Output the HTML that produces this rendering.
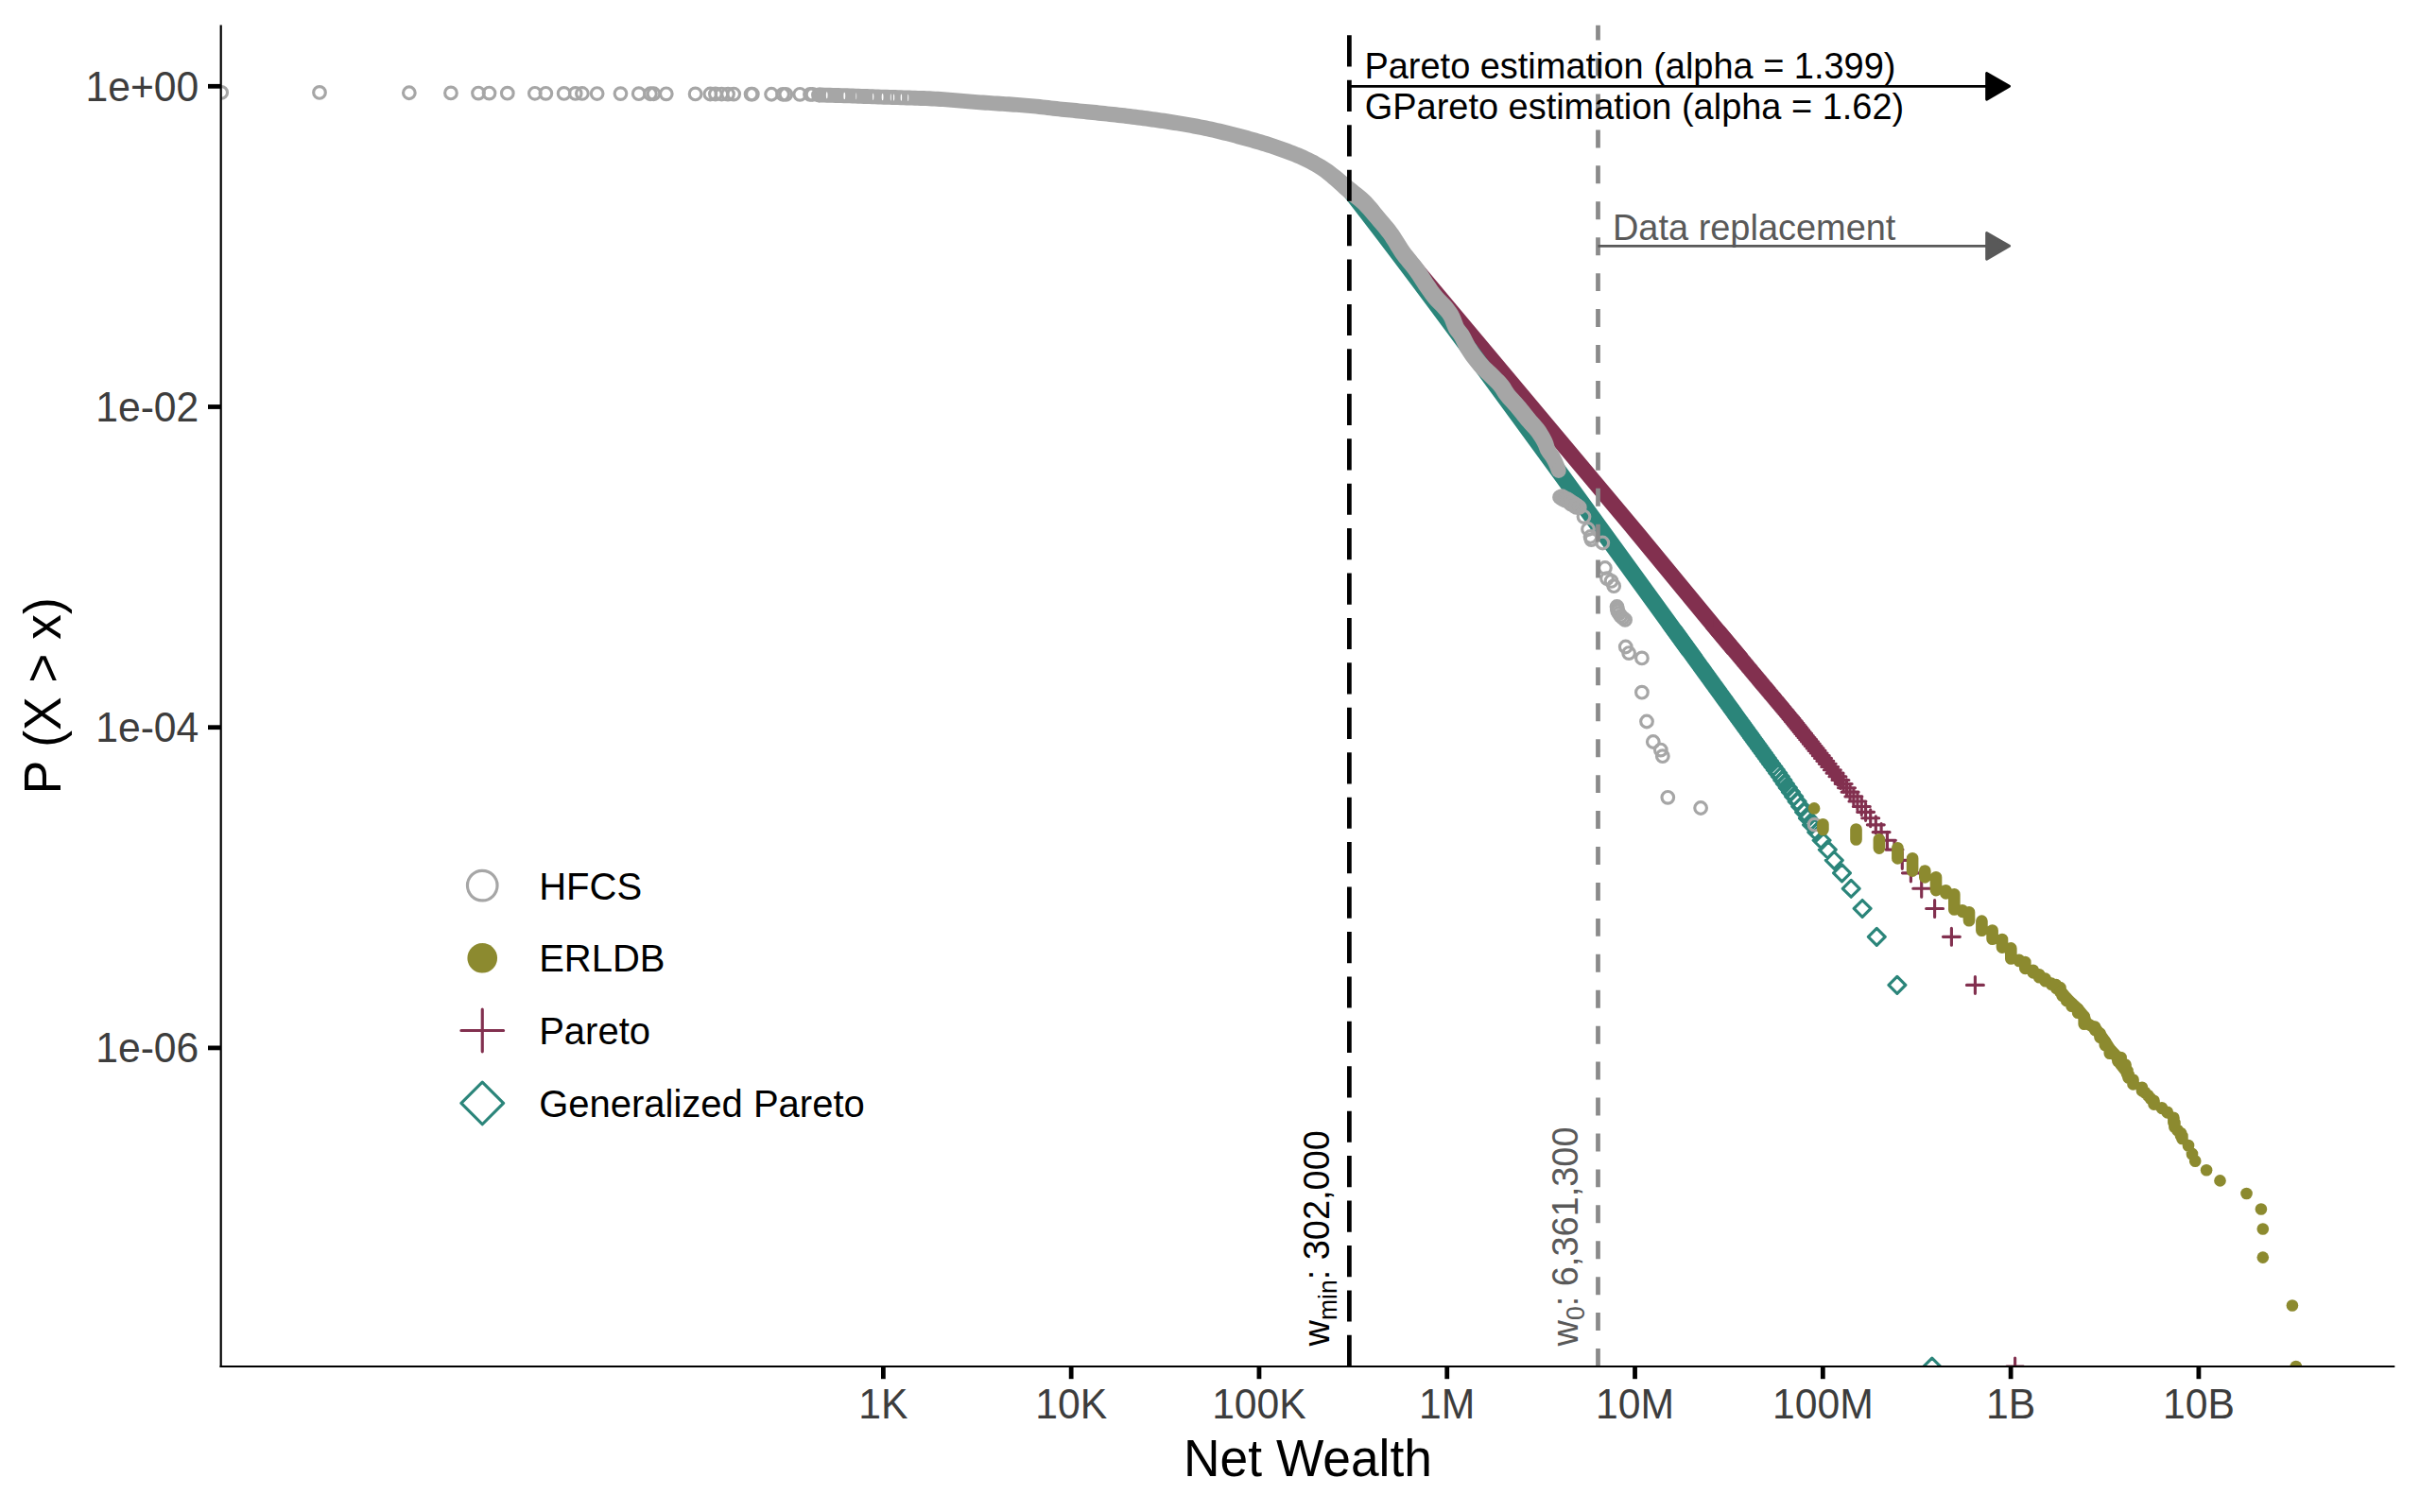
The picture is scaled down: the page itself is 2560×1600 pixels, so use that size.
<!DOCTYPE html>
<html lang="en"><head><meta charset="utf-8"><title>Net Wealth tail</title>
<style>html,body{margin:0;padding:0;background:#fff}svg{display:block}</style></head>
<body>
<svg width="2560" height="1600" viewBox="0 0 2560 1600" role="img" aria-label="Complementary CDF of net wealth">
<defs><clipPath id="panel"><rect x="233.7" y="26.5" width="2299.6" height="1419.5"/></clipPath></defs>
<rect width="2560" height="1600" fill="#ffffff"/>
<g clip-path="url(#panel)">
<g id="pareto" stroke="#82304f" fill="none" stroke-width="3.15" stroke-linecap="round">
<polygon points="1416.38,200.4 1419.73,204.4 1423.08,208.4 1426.43,212.4 1429.78,216.4 1433.13,220.4 1436.49,224.4 1439.84,228.4 1443.19,232.4 1446.54,236.4 1449.89,240.4 1453.24,244.4 1456.59,248.4 1459.94,252.4 1463.3,256.4 1466.65,260.4 1470,264.4 1473.35,268.4 1476.7,272.4 1480.05,276.4 1483.4,280.4 1486.75,284.4 1490.11,288.4 1493.46,292.4 1496.81,296.4 1500.16,300.4 1503.51,304.4 1506.86,308.4 1510.21,312.4 1513.57,316.4 1516.92,320.4 1520.27,324.4 1523.62,328.4 1526.97,332.4 1530.32,336.4 1533.67,340.4 1537.02,344.4 1540.38,348.4 1543.73,352.4 1547.08,356.4 1550.43,360.4 1553.78,364.4 1557.13,368.4 1560.48,372.4 1563.83,376.4 1567.19,380.4 1570.54,384.4 1573.89,388.4 1577.24,392.4 1580.59,396.4 1583.94,400.4 1587.29,404.4 1590.64,408.4 1594,412.4 1597.35,416.4 1600.7,420.4 1604.05,424.4 1607.4,428.4 1610.75,432.4 1614.1,436.4 1617.45,440.4 1620.81,444.4 1624.16,448.4 1627.51,452.4 1630.86,456.4 1634.21,460.4 1637.56,464.4 1640.91,468.4 1644.27,472.4 1647.62,476.4 1650.97,480.4 1654.32,484.4 1657.67,488.4 1661.02,492.4 1664.37,496.4 1667.72,500.4 1671.08,504.4 1674.43,508.4 1677.78,512.4 1681.13,516.4 1684.48,520.4 1687.83,524.4 1691.18,528.4 1694.53,532.4 1697.89,536.4 1701.24,540.4 1704.59,544.4 1707.94,548.4 1711.29,552.4 1714.64,556.4 1717.99,560.4 1721.29,564.4 1724.58,568.4 1727.88,572.4 1731.17,576.4 1734.46,580.4 1737.76,584.4 1741.05,588.4 1744.34,592.4 1747.64,596.4 1750.93,600.4 1754.22,604.4 1757.52,608.4 1760.81,612.4 1764.1,616.4 1767.4,620.4 1770.69,624.4 1773.98,628.4 1777.28,632.4 1780.57,636.4 1783.86,640.4 1787.15,644.4 1790.45,648.4 1793.74,652.4 1797.03,656.4 1800.33,660.4 1803.67,664.4 1807.02,668.4 1810.36,672.4 1813.71,676.4 1817.06,680.4 1820.4,684.4 1823.75,688.4 1827.09,692.4 1849.07,692.4 1845.73,688.4 1842.38,684.4 1839.04,680.4 1835.69,676.4 1832.35,672.4 1829,668.4 1825.66,664.4 1822.31,660.4 1818.99,656.4 1815.7,652.4 1812.4,648.4 1809.11,644.4 1805.82,640.4 1802.52,636.4 1799.23,632.4 1795.94,628.4 1792.64,624.4 1789.35,620.4 1786.06,616.4 1782.77,612.4 1779.47,608.4 1776.18,604.4 1772.89,600.4 1769.59,596.4 1766.3,592.4 1763.01,588.4 1759.71,584.4 1756.42,580.4 1753.13,576.4 1749.83,572.4 1746.54,568.4 1743.25,564.4 1739.96,560.4 1736.63,556.4 1733.28,552.4 1729.92,548.4 1726.57,544.4 1723.22,540.4 1719.87,536.4 1716.52,532.4 1713.17,528.4 1709.82,524.4 1706.47,520.4 1703.11,516.4 1699.76,512.4 1696.41,508.4 1693.06,504.4 1689.71,500.4 1686.36,496.4 1683.01,492.4 1679.66,488.4 1676.3,484.4 1672.95,480.4 1669.6,476.4 1666.25,472.4 1662.9,468.4 1659.55,464.4 1656.2,460.4 1652.85,456.4 1649.49,452.4 1646.14,448.4 1642.79,444.4 1639.44,440.4 1636.09,436.4 1632.74,432.4 1629.39,428.4 1626.03,424.4 1622.68,420.4 1619.33,416.4 1615.98,412.4 1612.63,408.4 1609.28,404.4 1605.93,400.4 1602.58,396.4 1599.22,392.4 1595.87,388.4 1592.52,384.4 1589.17,380.4 1585.82,376.4 1582.47,372.4 1579.12,368.4 1575.77,364.4 1572.41,360.4 1569.06,356.4 1565.71,352.4 1562.36,348.4 1559.01,344.4 1555.66,340.4 1552.31,336.4 1548.96,332.4 1545.6,328.4 1542.25,324.4 1538.9,320.4 1535.55,316.4 1532.2,312.4 1528.85,308.4 1525.5,304.4 1522.15,300.4 1518.79,296.4 1515.44,292.4 1512.09,288.4 1508.74,284.4 1505.39,280.4 1502.04,276.4 1498.69,272.4 1495.33,268.4 1491.98,264.4 1488.63,260.4 1485.28,256.4 1481.93,252.4 1478.58,248.4 1475.23,244.4 1471.88,240.4 1468.52,236.4 1465.17,232.4 1461.82,228.4 1458.47,224.4 1455.12,220.4 1451.77,216.4 1448.42,212.4 1445.07,208.4 1441.71,204.4 1438.36,200.4" fill="#82304f" stroke="none"/>
<path d="M1805.49 664.12h17.88M1814.43 655.18v17.88M1805.85 664.55h17.88M1814.79 655.61v17.88M1806.22 664.99h17.88M1815.16 656.05v17.88M1806.59 665.43h17.88M1815.52 656.49v17.88M1806.96 665.87h17.88M1815.89 656.93v17.88M1807.33 666.31h17.88M1816.27 657.38v17.88M1807.7 666.76h17.88M1816.64 657.82v17.88M1808.08 667.21h17.88M1817.02 658.28v17.88M1808.46 667.67h17.88M1817.4 658.73v17.88M1808.84 668.12h17.88M1817.78 659.18v17.88M1809.22 668.58h17.88M1818.16 659.64v17.88M1809.61 669.04h17.88M1818.55 660.11v17.88M1810 669.51h17.88M1818.94 660.57v17.88M1810.39 669.98h17.88M1819.33 661.04v17.88M1810.78 670.45h17.88M1819.72 661.51v17.88M1811.18 670.92h17.88M1820.12 661.98v17.88M1811.58 671.4h17.88M1820.52 662.46v17.88M1811.98 671.88h17.88M1820.92 662.94v17.88M1812.38 672.36h17.88M1821.32 663.42v17.88M1812.79 672.85h17.88M1821.73 663.91v17.88M1813.2 673.33h17.88M1822.14 664.4v17.88M1813.61 673.83h17.88M1822.55 664.89v17.88M1814.03 674.32h17.88M1822.96 665.39v17.88M1814.44 674.82h17.88M1823.38 665.89v17.88M1814.86 675.33h17.88M1823.8 666.39v17.88M1815.29 675.83h17.88M1824.23 666.89v17.88M1815.71 676.34h17.88M1824.65 667.4v17.88M1816.14 676.86h17.88M1825.08 667.92v17.88M1816.58 677.37h17.88M1825.51 668.43v17.88M1817.01 677.89h17.88M1825.95 668.95v17.88M1817.45 678.42h17.88M1826.39 669.48v17.88M1817.89 678.94h17.88M1826.83 670.01v17.88M1818.34 679.48h17.88M1827.27 670.54v17.88M1818.78 680.01h17.88M1827.72 671.07v17.88M1819.24 680.55h17.88M1828.17 671.61v17.88M1819.69 681.1h17.88M1828.63 672.16v17.88M1820.15 681.64h17.88M1829.09 672.71v17.88M1820.61 682.19h17.88M1829.55 673.26v17.88M1821.07 682.75h17.88M1830.01 673.81v17.88M1821.54 683.31h17.88M1830.48 674.37v17.88M1822.02 683.88h17.88M1830.95 674.94v17.88M1822.49 684.44h17.88M1831.43 675.51v17.88M1822.97 685.02h17.88M1831.91 676.08v17.88M1823.45 685.59h17.88M1832.39 676.66v17.88M1823.94 686.18h17.88M1832.88 677.24v17.88M1824.43 686.76h17.88M1833.37 677.83v17.88M1824.93 687.36h17.88M1833.86 678.42v17.88M1825.42 687.95h17.88M1834.36 679.01v17.88M1825.93 688.55h17.88M1834.87 679.62v17.88M1826.43 689.16h17.88M1835.37 680.22v17.88M1826.95 689.77h17.88M1835.88 680.83v17.88M1827.46 690.39h17.88M1836.4 681.45v17.88M1827.98 691.01h17.88M1836.92 682.07v17.88M1828.51 691.64h17.88M1837.44 682.7v17.88M1829.03 692.27h17.88M1837.97 683.33v17.88M1829.57 692.91h17.88M1838.51 683.97v17.88M1830.11 693.55h17.88M1839.04 684.61v17.88M1830.65 694.2h17.88M1839.59 685.26v17.88M1831.2 694.85h17.88M1840.13 685.91v17.88M1831.75 695.51h17.88M1840.69 686.58v17.88M1832.31 696.18h17.88M1841.24 687.24v17.88M1832.87 696.85h17.88M1841.81 687.91v17.88M1833.44 697.53h17.88M1842.37 688.59v17.88M1834.01 698.22h17.88M1842.95 689.28v17.88M1834.59 698.91h17.88M1843.53 689.97v17.88M1835.17 699.61h17.88M1844.11 690.67v17.88M1835.76 700.31h17.88M1844.7 691.37v17.88M1836.36 701.02h17.88M1845.29 692.08v17.88M1836.96 701.74h17.88M1845.89 692.8v17.88M1837.56 702.47h17.88M1846.5 693.53v17.88M1838.18 703.2h17.88M1847.11 694.26v17.88M1838.8 703.94h17.88M1847.73 695v17.88M1839.42 704.69h17.88M1848.36 695.75v17.88M1840.05 705.44h17.88M1848.99 696.51v17.88M1840.69 706.21h17.88M1849.63 697.27v17.88M1841.34 706.98h17.88M1850.27 698.04v17.88M1841.99 707.76h17.88M1850.93 698.82v17.88M1842.65 708.55h17.88M1851.59 699.61v17.88M1843.31 709.34h17.88M1852.25 700.4v17.88M1843.99 710.15h17.88M1852.92 701.21v17.88M1844.67 710.96h17.88M1853.61 702.02v17.88M1845.36 711.78h17.88M1854.29 702.85v17.88M1846.05 712.62h17.88M1854.99 703.68v17.88M1846.76 713.46h17.88M1855.69 704.52v17.88M1847.47 714.31h17.88M1856.41 705.37v17.88M1848.19 715.17h17.88M1857.13 706.23v17.88M1848.92 716.04h17.88M1857.86 707.1v17.88M1849.65 716.92h17.88M1858.59 707.99v17.88M1850.4 717.82h17.88M1859.34 708.88v17.88M1851.16 718.72h17.88M1860.1 709.78v17.88M1851.92 719.64h17.88M1860.86 710.7v17.88M1852.7 720.56h17.88M1861.64 711.62v17.88M1853.48 721.5h17.88M1862.42 712.56v17.88M1854.28 722.45h17.88M1863.22 713.51v17.88M1855.08 723.41h17.88M1864.02 714.48v17.88M1855.9 724.39h17.88M1864.84 715.45v17.88M1856.73 725.38h17.88M1865.66 716.44v17.88M1857.56 726.38h17.88M1866.5 717.44v17.88M1858.41 727.4h17.88M1867.35 718.46v17.88M1859.27 728.43h17.88M1868.21 719.49v17.88M1860.15 729.47h17.88M1869.09 720.53v17.88M1861.03 730.53h17.88M1869.97 721.59v17.88M1861.93 731.61h17.88M1870.87 722.67v17.88M1862.85 732.7h17.88M1871.78 723.76v17.88M1863.77 733.81h17.88M1872.71 724.87v17.88M1864.71 734.93h17.88M1873.65 725.99v17.88M1865.67 736.07h17.88M1874.61 727.13v17.88M1866.64 737.23h17.88M1875.58 728.29v17.88M1867.62 738.41h17.88M1876.56 729.47v17.88M1868.63 739.61h17.88M1877.56 730.67v17.88M1869.64 740.83h17.88M1878.58 731.89v17.88M1870.68 742.06h17.88M1879.62 733.13v17.88M1871.73 743.32h17.88M1880.67 734.38v17.88M1872.8 744.6h17.88M1881.74 735.67v17.88M1873.89 745.91h17.88M1882.83 736.97v17.88M1875 747.23h17.88M1883.94 738.3v17.88M1876.13 748.59h17.88M1885.07 739.65v17.88M1877.29 749.96h17.88M1886.22 741.02v17.88M1878.46 751.37h17.88M1887.4 742.43v17.88M1879.66 752.8h17.88M1888.59 743.86v17.88M1880.88 754.25h17.88M1889.81 745.32v17.88M1882.12 755.74h17.88M1891.06 746.8v17.88M1883.39 757.26h17.88M1892.33 748.32v17.88M1884.69 758.81h17.88M1893.62 749.87v17.88M1885.98 760.4h17.88M1894.92 751.46v17.88M1887.27 762.02h17.88M1896.21 753.08v17.88M1888.59 763.67h17.88M1897.53 754.73v17.88M1889.95 765.36h17.88M1898.89 756.43v17.88M1891.33 767.1h17.88M1900.27 758.16v17.88M1892.75 768.87h17.88M1901.69 759.93v17.88M1894.21 770.69h17.88M1903.14 761.75v17.88M1895.7 772.56h17.88M1904.63 763.62v17.88M1897.22 774.47h17.88M1906.16 765.53v17.88M1898.79 776.43h17.88M1907.73 767.5v17.88M1900.41 778.45h17.88M1909.34 769.51v17.88M1902.07 780.53h17.88M1911 771.59v17.88M1903.77 782.66h17.88M1912.71 773.72v17.88M1905.53 784.86h17.88M1914.47 775.92v17.88M1907.34 787.13h17.88M1916.28 778.19v17.88M1909.21 789.47h17.88M1918.15 780.53v17.88M1911.14 791.88h17.88M1920.08 782.94v17.88M1913.13 794.38h17.88M1922.07 785.44v17.88M1915.2 796.96h17.88M1924.14 788.02v17.88M1917.34 799.64h17.88M1926.28 790.7v17.88M1919.56 802.42h17.88M1928.5 793.48v17.88M1921.87 805.31h17.88M1930.81 796.37v17.88M1924.27 808.32h17.88M1933.21 799.38v17.88M1926.78 811.45h17.88M1935.72 802.51v17.88M1929.4 814.73h17.88M1938.33 805.79v17.88M1932.13 818.15h17.88M1941.07 809.21v17.88M1935.01 821.75h17.88M1943.94 812.81v17.88M1938.02 825.52h17.88M1946.96 816.59v17.88M1941.21 829.51h17.88M1950.14 820.57v17.88M1944.57 833.72h17.88M1953.51 824.78v17.88M1948.14 838.18h17.88M1957.08 829.24v17.88M1951.94 842.93h17.88M1960.88 834v17.88M1956 848.02h17.88M1964.94 839.08v17.88M1960.36 853.48h17.88M1969.3 844.54v17.88M1964.66 859.37h17.88M1973.6 850.43v17.88M1969.76 865.78h17.88M1978.7 856.84v17.88M1975.36 872.8h17.88M1984.3 863.86v17.88M1981.16 880.56h17.88M1990.1 871.62v17.88M1987.46 889.24h17.88M1996.4 880.3v17.88M1995.06 899.07h17.88M2004 890.13v17.88M2003.36 910.43h17.88M2012.3 901.49v17.88M2012.46 923.85h17.88M2021.4 914.92v17.88M2023.76 940.29h17.88M2032.7 931.35v17.88M2037.66 961.48h17.88M2046.6 952.54v17.88M2055.46 991.35h17.88M2064.4 982.41v17.88M2080.46 1042.4h17.88M2089.4 1033.46v17.88M2122.66 1446h17.88M2131.6 1437.06v17.88"/>
</g>
<g id="gpareto" stroke="#2b857a" fill="none" stroke-width="3.15" stroke-linejoin="round">
<polygon points="1416.43,201.14 1419.56,205.14 1422.69,209.14 1425.81,213.14 1428.92,217.14 1432.02,221.14 1435.11,225.14 1438.2,229.14 1441.28,233.14 1444.35,237.14 1447.42,241.14 1450.48,245.14 1453.54,249.14 1456.59,253.14 1459.64,257.14 1462.68,261.14 1465.71,265.14 1468.74,269.14 1471.77,273.14 1474.79,277.14 1477.8,281.14 1480.82,285.14 1483.82,289.14 1486.83,293.14 1489.83,297.14 1492.83,301.14 1495.82,305.14 1498.81,309.14 1501.8,313.14 1504.78,317.14 1507.76,321.14 1510.74,325.14 1513.71,329.14 1516.68,333.14 1519.65,337.14 1522.62,341.14 1525.58,345.14 1528.55,349.14 1531.51,353.14 1534.46,357.14 1537.42,361.14 1540.37,365.14 1543.32,369.14 1546.27,373.14 1549.22,377.14 1552.17,381.14 1555.11,385.14 1558.05,389.14 1560.99,393.14 1563.93,397.14 1566.87,401.14 1569.81,405.14 1572.74,409.14 1575.67,413.14 1578.61,417.14 1581.54,421.14 1584.47,425.14 1587.4,429.14 1590.32,433.14 1593.25,437.14 1596.17,441.14 1599.1,445.14 1602.02,449.14 1604.94,453.14 1607.86,457.14 1610.78,461.14 1613.7,465.14 1616.62,469.14 1619.54,473.14 1622.46,477.14 1625.37,481.14 1628.29,485.14 1631.2,489.14 1634.12,493.14 1637.03,497.14 1639.94,501.14 1642.86,505.14 1645.77,509.14 1648.68,513.14 1651.59,517.14 1654.5,521.14 1657.41,525.14 1660.32,529.14 1663.23,533.14 1666.13,537.14 1669.04,541.14 1671.95,545.14 1674.85,549.14 1677.76,553.14 1680.67,557.14 1683.57,561.14 1686.48,565.14 1689.38,569.14 1692.29,573.14 1695.19,577.14 1698.09,581.14 1701,585.14 1703.9,589.14 1706.8,593.14 1709.7,597.14 1712.61,601.14 1715.51,605.14 1718.41,609.14 1721.31,613.14 1724.21,617.14 1727.11,621.14 1730.01,625.14 1732.92,629.14 1735.82,633.14 1738.72,637.14 1741.62,641.14 1744.51,645.14 1747.41,649.14 1750.31,653.14 1753.21,657.14 1756.11,661.14 1759.01,665.14 1761.91,669.14 1764.81,673.14 1767.71,677.14 1770.6,681.14 1773.5,685.14 1776.4,689.14 1779.3,693.14 1801.06,693.14 1798.17,689.14 1795.27,685.14 1792.37,681.14 1789.47,677.14 1786.57,673.14 1783.67,669.14 1780.78,665.14 1777.88,661.14 1774.98,657.14 1772.08,653.14 1769.18,649.14 1766.28,645.14 1763.38,641.14 1760.48,637.14 1757.58,633.14 1754.68,629.14 1751.78,625.14 1748.88,621.14 1745.98,617.14 1743.08,613.14 1740.18,609.14 1737.28,605.14 1734.37,601.14 1731.47,597.14 1728.57,593.14 1725.67,589.14 1722.76,585.14 1719.86,581.14 1716.96,577.14 1714.05,573.14 1711.15,569.14 1708.25,565.14 1705.34,561.14 1702.44,557.14 1699.53,553.14 1696.62,549.14 1693.72,545.14 1690.81,541.14 1687.9,537.14 1685,533.14 1682.09,529.14 1679.18,525.14 1676.27,521.14 1673.36,517.14 1670.45,513.14 1667.54,509.14 1664.63,505.14 1661.72,501.14 1658.8,497.14 1655.89,493.14 1652.98,489.14 1650.06,485.14 1647.15,481.14 1644.23,477.14 1641.31,473.14 1638.4,469.14 1635.48,465.14 1632.56,461.14 1629.64,457.14 1626.72,453.14 1623.8,449.14 1620.88,445.14 1617.95,441.14 1615.03,437.14 1612.1,433.14 1609.17,429.14 1606.25,425.14 1603.32,421.14 1600.39,417.14 1597.46,413.14 1594.52,409.14 1591.59,405.14 1588.65,401.14 1585.72,397.14 1582.78,393.14 1579.84,389.14 1576.9,385.14 1573.95,381.14 1571.01,377.14 1568.06,373.14 1565.11,369.14 1562.16,365.14 1559.21,361.14 1556.26,357.14 1553.3,353.14 1550.34,349.14 1547.38,345.14 1544.42,341.14 1541.45,337.14 1538.48,333.14 1535.51,329.14 1532.54,325.14 1529.56,321.14 1526.58,317.14 1523.6,313.14 1520.62,309.14 1517.63,305.14 1514.64,301.14 1511.64,297.14 1508.64,293.14 1505.64,289.14 1502.63,285.14 1499.62,281.14 1496.61,277.14 1493.59,273.14 1490.57,269.14 1487.54,265.14 1484.51,261.14 1481.47,257.14 1478.43,253.14 1475.38,249.14 1472.33,245.14 1469.27,241.14 1466.2,237.14 1463.13,233.14 1460.05,229.14 1456.97,225.14 1453.88,221.14 1450.78,217.14 1447.67,213.14 1444.56,209.14 1441.44,205.14 1438.31,201.14" fill="#2b857a" stroke="none"/>
<path d="M1760.21 664.12l8.94 -8.94l8.94 8.94l-8.94 8.94zM1760.53 664.55l8.94 -8.94l8.94 8.94l-8.94 8.94zM1760.85 664.99l8.94 -8.94l8.94 8.94l-8.94 8.94zM1761.16 665.43l8.94 -8.94l8.94 8.94l-8.94 8.94zM1761.48 665.87l8.94 -8.94l8.94 8.94l-8.94 8.94zM1761.81 666.31l8.94 -8.94l8.94 8.94l-8.94 8.94zM1762.13 666.76l8.94 -8.94l8.94 8.94l-8.94 8.94zM1762.46 667.21l8.94 -8.94l8.94 8.94l-8.94 8.94zM1762.79 667.67l8.94 -8.94l8.94 8.94l-8.94 8.94zM1763.12 668.12l8.94 -8.94l8.94 8.94l-8.94 8.94zM1763.45 668.58l8.94 -8.94l8.94 8.94l-8.94 8.94zM1763.78 669.04l8.94 -8.94l8.94 8.94l-8.94 8.94zM1764.12 669.51l8.94 -8.94l8.94 8.94l-8.94 8.94zM1764.46 669.98l8.94 -8.94l8.94 8.94l-8.94 8.94zM1764.8 670.45l8.94 -8.94l8.94 8.94l-8.94 8.94zM1765.14 670.92l8.94 -8.94l8.94 8.94l-8.94 8.94zM1765.49 671.4l8.94 -8.94l8.94 8.94l-8.94 8.94zM1765.84 671.88l8.94 -8.94l8.94 8.94l-8.94 8.94zM1766.19 672.36l8.94 -8.94l8.94 8.94l-8.94 8.94zM1766.54 672.85l8.94 -8.94l8.94 8.94l-8.94 8.94zM1766.89 673.33l8.94 -8.94l8.94 8.94l-8.94 8.94zM1767.25 673.83l8.94 -8.94l8.94 8.94l-8.94 8.94zM1767.61 674.32l8.94 -8.94l8.94 8.94l-8.94 8.94zM1767.97 674.82l8.94 -8.94l8.94 8.94l-8.94 8.94zM1768.34 675.33l8.94 -8.94l8.94 8.94l-8.94 8.94zM1768.7 675.83l8.94 -8.94l8.94 8.94l-8.94 8.94zM1769.07 676.34l8.94 -8.94l8.94 8.94l-8.94 8.94zM1769.44 676.86l8.94 -8.94l8.94 8.94l-8.94 8.94zM1769.82 677.37l8.94 -8.94l8.94 8.94l-8.94 8.94zM1770.2 677.89l8.94 -8.94l8.94 8.94l-8.94 8.94zM1770.58 678.42l8.94 -8.94l8.94 8.94l-8.94 8.94zM1770.96 678.94l8.94 -8.94l8.94 8.94l-8.94 8.94zM1771.34 679.48l8.94 -8.94l8.94 8.94l-8.94 8.94zM1771.73 680.01l8.94 -8.94l8.94 8.94l-8.94 8.94zM1772.12 680.55l8.94 -8.94l8.94 8.94l-8.94 8.94zM1772.52 681.1l8.94 -8.94l8.94 8.94l-8.94 8.94zM1772.91 681.64l8.94 -8.94l8.94 8.94l-8.94 8.94zM1773.31 682.19l8.94 -8.94l8.94 8.94l-8.94 8.94zM1773.72 682.75l8.94 -8.94l8.94 8.94l-8.94 8.94zM1774.12 683.31l8.94 -8.94l8.94 8.94l-8.94 8.94zM1774.53 683.88l8.94 -8.94l8.94 8.94l-8.94 8.94zM1774.94 684.44l8.94 -8.94l8.94 8.94l-8.94 8.94zM1775.36 685.02l8.94 -8.94l8.94 8.94l-8.94 8.94zM1775.78 685.59l8.94 -8.94l8.94 8.94l-8.94 8.94zM1776.2 686.18l8.94 -8.94l8.94 8.94l-8.94 8.94zM1776.62 686.76l8.94 -8.94l8.94 8.94l-8.94 8.94zM1777.05 687.36l8.94 -8.94l8.94 8.94l-8.94 8.94zM1777.48 687.95l8.94 -8.94l8.94 8.94l-8.94 8.94zM1777.92 688.55l8.94 -8.94l8.94 8.94l-8.94 8.94zM1778.36 689.16l8.94 -8.94l8.94 8.94l-8.94 8.94zM1778.8 689.77l8.94 -8.94l8.94 8.94l-8.94 8.94zM1779.25 690.39l8.94 -8.94l8.94 8.94l-8.94 8.94zM1779.7 691.01l8.94 -8.94l8.94 8.94l-8.94 8.94zM1780.15 691.64l8.94 -8.94l8.94 8.94l-8.94 8.94zM1780.61 692.27l8.94 -8.94l8.94 8.94l-8.94 8.94zM1781.07 692.91l8.94 -8.94l8.94 8.94l-8.94 8.94zM1781.54 693.55l8.94 -8.94l8.94 8.94l-8.94 8.94zM1782.01 694.2l8.94 -8.94l8.94 8.94l-8.94 8.94zM1782.48 694.85l8.94 -8.94l8.94 8.94l-8.94 8.94zM1782.96 695.51l8.94 -8.94l8.94 8.94l-8.94 8.94zM1783.45 696.18l8.94 -8.94l8.94 8.94l-8.94 8.94zM1783.93 696.85l8.94 -8.94l8.94 8.94l-8.94 8.94zM1784.42 697.53l8.94 -8.94l8.94 8.94l-8.94 8.94zM1784.92 698.22l8.94 -8.94l8.94 8.94l-8.94 8.94zM1785.42 698.91l8.94 -8.94l8.94 8.94l-8.94 8.94zM1785.93 699.61l8.94 -8.94l8.94 8.94l-8.94 8.94zM1786.44 700.31l8.94 -8.94l8.94 8.94l-8.94 8.94zM1786.95 701.02l8.94 -8.94l8.94 8.94l-8.94 8.94zM1787.47 701.74l8.94 -8.94l8.94 8.94l-8.94 8.94zM1788 702.47l8.94 -8.94l8.94 8.94l-8.94 8.94zM1788.53 703.2l8.94 -8.94l8.94 8.94l-8.94 8.94zM1789.07 703.94l8.94 -8.94l8.94 8.94l-8.94 8.94zM1789.61 704.69l8.94 -8.94l8.94 8.94l-8.94 8.94zM1790.16 705.44l8.94 -8.94l8.94 8.94l-8.94 8.94zM1790.71 706.21l8.94 -8.94l8.94 8.94l-8.94 8.94zM1791.27 706.98l8.94 -8.94l8.94 8.94l-8.94 8.94zM1791.83 707.76l8.94 -8.94l8.94 8.94l-8.94 8.94zM1792.4 708.55l8.94 -8.94l8.94 8.94l-8.94 8.94zM1792.98 709.34l8.94 -8.94l8.94 8.94l-8.94 8.94zM1793.56 710.15l8.94 -8.94l8.94 8.94l-8.94 8.94zM1794.15 710.96l8.94 -8.94l8.94 8.94l-8.94 8.94zM1794.75 711.78l8.94 -8.94l8.94 8.94l-8.94 8.94zM1795.35 712.62l8.94 -8.94l8.94 8.94l-8.94 8.94zM1795.96 713.46l8.94 -8.94l8.94 8.94l-8.94 8.94zM1796.58 714.31l8.94 -8.94l8.94 8.94l-8.94 8.94zM1797.2 715.17l8.94 -8.94l8.94 8.94l-8.94 8.94zM1797.83 716.04l8.94 -8.94l8.94 8.94l-8.94 8.94zM1798.47 716.92l8.94 -8.94l8.94 8.94l-8.94 8.94zM1799.12 717.82l8.94 -8.94l8.94 8.94l-8.94 8.94zM1799.77 718.72l8.94 -8.94l8.94 8.94l-8.94 8.94zM1800.43 719.64l8.94 -8.94l8.94 8.94l-8.94 8.94zM1801.11 720.56l8.94 -8.94l8.94 8.94l-8.94 8.94zM1801.79 721.5l8.94 -8.94l8.94 8.94l-8.94 8.94zM1802.47 722.45l8.94 -8.94l8.94 8.94l-8.94 8.94zM1803.17 723.41l8.94 -8.94l8.94 8.94l-8.94 8.94zM1803.88 724.39l8.94 -8.94l8.94 8.94l-8.94 8.94zM1804.59 725.38l8.94 -8.94l8.94 8.94l-8.94 8.94zM1805.32 726.38l8.94 -8.94l8.94 8.94l-8.94 8.94zM1806.06 727.4l8.94 -8.94l8.94 8.94l-8.94 8.94zM1806.8 728.43l8.94 -8.94l8.94 8.94l-8.94 8.94zM1807.56 729.47l8.94 -8.94l8.94 8.94l-8.94 8.94zM1808.33 730.53l8.94 -8.94l8.94 8.94l-8.94 8.94zM1809.1 731.61l8.94 -8.94l8.94 8.94l-8.94 8.94zM1809.89 732.7l8.94 -8.94l8.94 8.94l-8.94 8.94zM1810.7 733.81l8.94 -8.94l8.94 8.94l-8.94 8.94zM1811.51 734.93l8.94 -8.94l8.94 8.94l-8.94 8.94zM1812.34 736.07l8.94 -8.94l8.94 8.94l-8.94 8.94zM1813.18 737.23l8.94 -8.94l8.94 8.94l-8.94 8.94zM1814.03 738.41l8.94 -8.94l8.94 8.94l-8.94 8.94zM1814.9 739.61l8.94 -8.94l8.94 8.94l-8.94 8.94zM1815.78 740.83l8.94 -8.94l8.94 8.94l-8.94 8.94zM1816.68 742.06l8.94 -8.94l8.94 8.94l-8.94 8.94zM1817.59 743.32l8.94 -8.94l8.94 8.94l-8.94 8.94zM1818.52 744.6l8.94 -8.94l8.94 8.94l-8.94 8.94zM1819.46 745.91l8.94 -8.94l8.94 8.94l-8.94 8.94zM1820.42 747.23l8.94 -8.94l8.94 8.94l-8.94 8.94zM1821.4 748.59l8.94 -8.94l8.94 8.94l-8.94 8.94zM1822.4 749.96l8.94 -8.94l8.94 8.94l-8.94 8.94zM1823.41 751.37l8.94 -8.94l8.94 8.94l-8.94 8.94zM1824.45 752.8l8.94 -8.94l8.94 8.94l-8.94 8.94zM1825.5 754.25l8.94 -8.94l8.94 8.94l-8.94 8.94zM1826.58 755.74l8.94 -8.94l8.94 8.94l-8.94 8.94zM1827.68 757.26l8.94 -8.94l8.94 8.94l-8.94 8.94zM1828.8 758.81l8.94 -8.94l8.94 8.94l-8.94 8.94zM1829.95 760.4l8.94 -8.94l8.94 8.94l-8.94 8.94zM1831.12 762.02l8.94 -8.94l8.94 8.94l-8.94 8.94zM1832.32 763.67l8.94 -8.94l8.94 8.94l-8.94 8.94zM1833.55 765.36l8.94 -8.94l8.94 8.94l-8.94 8.94zM1834.8 767.1l8.94 -8.94l8.94 8.94l-8.94 8.94zM1836.09 768.87l8.94 -8.94l8.94 8.94l-8.94 8.94zM1837.4 770.69l8.94 -8.94l8.94 8.94l-8.94 8.94zM1838.75 772.56l8.94 -8.94l8.94 8.94l-8.94 8.94zM1840.14 774.47l8.94 -8.94l8.94 8.94l-8.94 8.94zM1841.56 776.43l8.94 -8.94l8.94 8.94l-8.94 8.94zM1843.02 778.45l8.94 -8.94l8.94 8.94l-8.94 8.94zM1844.53 780.53l8.94 -8.94l8.94 8.94l-8.94 8.94zM1846.07 782.66l8.94 -8.94l8.94 8.94l-8.94 8.94zM1847.66 784.86l8.94 -8.94l8.94 8.94l-8.94 8.94zM1849.3 787.13l8.94 -8.94l8.94 8.94l-8.94 8.94zM1851 789.47l8.94 -8.94l8.94 8.94l-8.94 8.94zM1852.74 791.88l8.94 -8.94l8.94 8.94l-8.94 8.94zM1854.55 794.38l8.94 -8.94l8.94 8.94l-8.94 8.94zM1856.42 796.96l8.94 -8.94l8.94 8.94l-8.94 8.94zM1858.36 799.64l8.94 -8.94l8.94 8.94l-8.94 8.94zM1860.38 802.42l8.94 -8.94l8.94 8.94l-8.94 8.94zM1862.47 805.31l8.94 -8.94l8.94 8.94l-8.94 8.94zM1864.64 808.32l8.94 -8.94l8.94 8.94l-8.94 8.94zM1866.91 811.45l8.94 -8.94l8.94 8.94l-8.94 8.94zM1869.28 814.73l8.94 -8.94l8.94 8.94l-8.94 8.94zM1871.76 818.15l8.94 -8.94l8.94 8.94l-8.94 8.94zM1874.36 821.75l8.94 -8.94l8.94 8.94l-8.94 8.94zM1876.85 825.52l8.94 -8.94l8.94 8.94l-8.94 8.94zM1879.47 829.51l8.94 -8.94l8.94 8.94l-8.94 8.94zM1882.36 833.72l8.94 -8.94l8.94 8.94l-8.94 8.94zM1885.44 838.18l8.94 -8.94l8.94 8.94l-8.94 8.94zM1888.72 842.93l8.94 -8.94l8.94 8.94l-8.94 8.94zM1892.16 848.02l8.94 -8.94l8.94 8.94l-8.94 8.94zM1895.78 853.48l8.94 -8.94l8.94 8.94l-8.94 8.94zM1899.69 859.37l8.94 -8.94l8.94 8.94l-8.94 8.94zM1903.51 865.78l8.94 -8.94l8.94 8.94l-8.94 8.94zM1907.59 872.8l8.94 -8.94l8.94 8.94l-8.94 8.94zM1912.86 880.56l8.94 -8.94l8.94 8.94l-8.94 8.94zM1918.16 889.24l8.94 -8.94l8.94 8.94l-8.94 8.94zM1924.36 899.07l8.94 -8.94l8.94 8.94l-8.94 8.94zM1931.36 910.43l8.94 -8.94l8.94 8.94l-8.94 8.94zM1939.56 923.85l8.94 -8.94l8.94 8.94l-8.94 8.94zM1949.26 940.29l8.94 -8.94l8.94 8.94l-8.94 8.94zM1961.16 961.48l8.94 -8.94l8.94 8.94l-8.94 8.94zM1976.36 991.35l8.94 -8.94l8.94 8.94l-8.94 8.94zM1997.96 1042.4l8.94 -8.94l8.94 8.94l-8.94 8.94zM2034.86 1446l8.94 -8.94l8.94 8.94l-8.94 8.94z"/>
</g>
<g id="hfcs" stroke="#a6a6a6" fill="none" stroke-width="3.15">
<polygon points="865.83,108.45 868.83,108.51 871.82,108.58 874.81,108.65 877.79,108.72 880.78,108.8 883.76,108.89 886.75,108.97 889.74,109.07 892.73,109.16 895.72,109.26 898.71,109.37 901.7,109.47 904.7,109.58 907.69,109.68 910.69,109.79 913.69,109.9 916.69,110.01 919.69,110.12 922.69,110.23 925.69,110.34 928.69,110.44 931.7,110.54 934.7,110.64 937.71,110.74 940.72,110.83 943.72,110.93 946.72,111.02 949.72,111.1 952.72,111.19 955.72,111.28 958.71,111.38 961.7,111.47 964.69,111.57 967.68,111.67 970.67,111.77 973.65,111.88 976.63,112 979.61,112.12 982.58,112.25 985.54,112.39 988.49,112.54 991.44,112.71 994.39,112.9 997.35,113.1 1000.31,113.31 1003.27,113.54 1006.24,113.78 1009.22,114.02 1012.2,114.27 1015.18,114.52 1018.17,114.77 1021.16,115.03 1024.16,115.28 1027.16,115.53 1030.17,115.77 1033.18,116.01 1036.2,116.24 1039.22,116.46 1042.23,116.67 1045.23,116.87 1048.24,117.07 1051.24,117.27 1054.24,117.46 1057.24,117.65 1060.23,117.84 1063.22,118.04 1066.21,118.23 1069.19,118.43 1072.17,118.63 1075.15,118.83 1078.12,119.05 1081.09,119.27 1084.05,119.5 1087.01,119.74 1089.96,119.99 1092.88,120.26 1095.81,120.56 1098.74,120.88 1101.68,121.22 1104.64,121.56 1107.62,121.92 1110.6,122.28 1113.6,122.63 1116.62,122.98 1119.64,123.31 1122.64,123.63 1125.64,123.95 1128.64,124.26 1131.63,124.56 1134.62,124.87 1137.61,125.17 1140.59,125.47 1143.57,125.77 1146.55,126.08 1149.53,126.38 1152.5,126.69 1155.46,127.01 1158.43,127.33 1161.41,127.65 1164.39,127.97 1167.37,128.29 1170.35,128.61 1173.33,128.93 1176.3,129.25 1179.28,129.58 1182.25,129.91 1185.21,130.25 1188.18,130.59 1191.14,130.94 1194.1,131.29 1197.05,131.66 1200.01,132.02 1202.96,132.4 1205.91,132.79 1208.87,133.18 1211.83,133.57 1214.79,133.97 1217.75,134.38 1220.7,134.79 1223.66,135.21 1226.61,135.64 1229.56,136.07 1232.51,136.51 1235.46,136.96 1238.4,137.42 1241.34,137.88 1244.28,138.35 1247.21,138.84 1250.14,139.33 1253.07,139.83 1255.99,140.34 1258.91,140.87 1261.83,141.4 1264.73,141.94 1267.62,142.51 1270.51,143.1 1273.4,143.71 1276.28,144.33 1279.17,144.97 1282.06,145.62 1284.94,146.29 1287.83,146.98 1290.71,147.68 1293.59,148.39 1296.47,149.12 1299.34,149.86 1302.22,150.61 1305.09,151.37 1307.96,152.14 1310.82,152.92 1313.68,153.72 1316.54,154.52 1319.39,155.31 1322.25,156.12 1325.1,156.93 1327.96,157.76 1330.8,158.6 1333.64,159.46 1336.48,160.33 1339.31,161.21 1342.13,162.12 1344.94,163.03 1347.74,163.97 1350.53,164.92 1353.3,165.89 1356.06,166.89 1358.81,167.9 1361.54,168.93 1364.25,169.99 1366.94,171.06 1369.6,172.17 1372.23,173.32 1374.85,174.52 1377.46,175.76 1380.06,177.04 1382.62,178.36 1385.15,179.71 1387.64,181.11 1390.08,182.54 1392.47,183.99 1394.74,185.48 1396.93,187.05 1399.11,188.7 1401.28,190.44 1403.45,192.25 1405.63,194.13 1407.82,196.07 1410.02,198.06 1412.24,200.08 1414.49,202.12 1416.77,204.18 1419.09,206.25 1421.46,208.3 1423.9,210.26 1426.33,212.14 1428.69,213.97 1430.96,215.76 1433.14,217.53 1435.18,219.29 1437.11,221.07 1438.99,222.93 1440.86,224.91 1442.73,227 1444.62,229.18 1446.53,231.44 1448.47,233.75 1450.46,236.1 1452.47,238.44 1454.45,240.75 1456.39,243.01 1458.28,245.24 1460.1,247.44 1461.83,249.63 1463.47,251.81 1465.02,254.06 1466.54,256.4 1468.06,258.84 1469.6,261.35 1471.16,263.93 1472.77,266.57 1474.46,269.23 1476.23,271.92 1478.11,274.58 1480.06,277.15 1482.02,279.62 1483.97,282.01 1485.87,284.33 1487.71,286.59 1489.47,288.82 1491.14,291.02 1492.72,293.27 1494.29,295.6 1495.87,298.03 1497.47,300.54 1499.12,303.12 1500.84,305.74 1502.6,308.32 1504.36,310.83 1506.14,313.36 1508.01,315.93 1509.98,318.52 1512.13,321.14 1514.43,323.66 1516.67,325.94 1518.77,328.04 1520.64,329.99 1522.37,331.96 1524.14,334.04 1525.79,336.08 1527.09,337.91 1528.08,339.72 1528.98,341.95 1529.98,344.69 1531.19,347.87 1532.86,351.41 1535.06,354.81 1537.09,357.34 1538.46,359.22 1539.57,361.24 1540.77,363.66 1542.04,366.35 1543.47,369.26 1545.09,372.27 1546.85,375.1 1548.62,377.77 1550.45,380.41 1552.34,383.01 1554.28,385.56 1556.26,388.06 1558.29,390.52 1560.4,392.96 1562.66,395.42 1565.02,397.76 1567.32,399.92 1569.51,401.95 1571.56,403.89 1573.59,405.93 1575.7,408.05 1577.73,410.11 1579.58,412.07 1581.16,413.91 1582.45,415.68 1583.79,417.96 1585.63,420.94 1587.83,423.87 1590.01,426.46 1592.16,428.85 1594.24,431.09 1596.19,433.21 1598.02,435.31 1599.84,437.49 1601.68,439.76 1603.54,442.07 1605.41,444.41 1607.31,446.78 1609.26,449.18 1611.33,451.61 1613.45,453.97 1615.5,456.18 1617.39,458.28 1619.1,460.29 1620.64,462.29 1622.14,464.44 1623.65,466.71 1625.04,468.99 1626.28,471.25 1627.29,473.31 1628.23,475.85 1629.72,479.49 1631.94,483.1 1634,485.72 1635.44,487.64 1636.57,489.68 1637.81,492.07 1638.95,494.51 1639.99,496.97 1640.91,499.46 1641.23,500.41 1656.37,495.59 1656.04,494.49 1654.92,491.26 1653.67,488.14 1652.33,485.12 1650.89,482.18 1649.18,479.01 1647.11,476.01 1645.46,473.81 1644.6,472.36 1644.05,470.4 1643.12,467.19 1641.69,463.81 1640.16,460.72 1638.53,457.76 1636.83,454.93 1635.02,452.12 1633,449.36 1630.89,446.75 1628.8,444.33 1626.8,442.06 1624.94,439.9 1623.15,437.73 1621.31,435.47 1619.46,433.16 1617.58,430.81 1615.68,428.45 1613.74,426.06 1611.72,423.63 1609.6,421.2 1607.47,418.88 1605.45,416.7 1603.58,414.63 1601.9,412.65 1600.52,410.82 1599.21,408.67 1597.49,405.77 1595.27,402.74 1592.98,400.05 1590.7,397.62 1588.48,395.38 1586.35,393.23 1584.14,391.02 1581.82,388.81 1579.59,386.75 1577.51,384.8 1575.61,382.92 1573.84,381 1572.05,378.92 1570.26,376.74 1568.5,374.52 1566.79,372.27 1565.12,369.98 1563.52,367.67 1561.98,365.35 1560.58,363.13 1559.3,360.9 1558.02,358.43 1556.64,355.7 1555.1,352.77 1553.22,349.62 1551.06,346.64 1549.29,344.46 1548.26,342.9 1547.42,341.04 1546.48,338.55 1545.39,335.59 1544.01,332.25 1542.23,328.84 1540.21,325.71 1538.16,322.94 1536.12,320.35 1533.91,317.82 1531.63,315.44 1529.46,313.27 1527.49,311.27 1525.74,309.36 1524.1,307.36 1522.45,305.19 1520.78,302.89 1519.1,300.51 1517.42,298.09 1515.8,295.72 1514.23,293.32 1512.63,290.84 1511,288.29 1509.31,285.68 1507.54,283.04 1505.67,280.4 1503.72,277.82 1501.76,275.34 1499.81,272.94 1497.9,270.61 1496.05,268.34 1494.28,266.11 1492.61,263.91 1491.01,261.69 1489.45,259.4 1487.89,257.01 1486.32,254.54 1484.73,252 1483.09,249.4 1481.39,246.77 1479.61,244.11 1477.72,241.47 1475.77,238.87 1473.78,236.36 1471.77,233.94 1469.78,231.58 1467.8,229.28 1465.87,227.03 1464,224.79 1462.16,222.5 1460.28,220.15 1458.36,217.75 1456.37,215.32 1454.3,212.89 1452.13,210.47 1449.84,208.07 1447.43,205.78 1444.98,203.6 1442.53,201.54 1440.1,199.58 1437.72,197.68 1435.42,195.83 1433.19,194.01 1430.94,192.21 1428.68,190.36 1426.4,188.45 1424.1,186.52 1421.76,184.56 1419.39,182.58 1416.98,180.61 1414.53,178.65 1412.02,176.72 1409.45,174.83 1406.81,172.99 1404.11,171.22 1401.39,169.55 1398.67,167.94 1395.93,166.38 1393.15,164.87 1390.34,163.41 1387.51,162 1384.66,160.64 1381.79,159.33 1378.92,158.07 1376.06,156.86 1373.21,155.69 1370.37,154.54 1367.52,153.42 1364.66,152.32 1361.78,151.25 1358.9,150.2 1356.01,149.18 1353.11,148.18 1350.2,147.19 1347.29,146.23 1344.38,145.29 1341.46,144.36 1338.54,143.46 1335.62,142.57 1332.7,141.69 1329.78,140.83 1326.86,139.98 1323.95,139.15 1321.04,138.33 1318.12,137.54 1315.2,136.75 1312.28,135.97 1309.35,135.21 1306.41,134.45 1303.46,133.7 1300.52,132.97 1297.56,132.25 1294.6,131.54 1291.64,130.84 1288.67,130.16 1285.7,129.49 1282.72,128.84 1279.74,128.2 1276.76,127.58 1273.77,126.98 1270.78,126.4 1267.79,125.83 1264.81,125.27 1261.83,124.73 1258.85,124.19 1255.87,123.67 1252.89,123.16 1249.9,122.66 1246.91,122.17 1243.93,121.68 1240.94,121.21 1237.95,120.75 1234.95,120.29 1231.96,119.85 1228.97,119.41 1225.98,118.98 1222.99,118.55 1220,118.13 1217,117.72 1214.02,117.32 1211.03,116.92 1208.04,116.53 1205.05,116.14 1202.05,115.76 1199.05,115.39 1196.05,115.03 1193.05,114.68 1190.05,114.34 1187.05,114 1184.06,113.66 1181.06,113.34 1178.07,113.01 1175.08,112.69 1172.09,112.38 1169.1,112.06 1166.11,111.75 1163.13,111.43 1160.14,111.12 1157.14,110.82 1154.14,110.52 1151.14,110.23 1148.14,109.95 1145.15,109.67 1142.16,109.39 1139.17,109.11 1136.18,108.83 1133.2,108.55 1130.23,108.27 1127.25,107.98 1124.28,107.69 1121.32,107.39 1118.37,107.08 1115.42,106.76 1112.46,106.42 1109.49,106.07 1106.5,105.72 1103.5,105.38 1100.48,105.04 1097.45,104.72 1094.4,104.42 1091.36,104.15 1088.33,103.89 1085.31,103.65 1082.29,103.42 1079.28,103.19 1076.27,102.97 1073.26,102.77 1070.25,102.56 1067.25,102.36 1064.25,102.17 1061.25,101.98 1058.25,101.78 1055.26,101.59 1052.27,101.4 1049.28,101.21 1046.3,101.01 1043.32,100.81 1040.34,100.6 1037.38,100.38 1034.41,100.16 1031.44,99.92 1028.47,99.68 1025.49,99.43 1022.5,99.18 1019.52,98.93 1016.52,98.67 1013.53,98.42 1010.52,98.17 1007.52,97.93 1004.5,97.69 1001.49,97.46 998.47,97.24 995.44,97.03 992.4,96.84 989.37,96.66 986.33,96.5 983.3,96.36 980.28,96.23 977.26,96.11 974.25,95.99 971.24,95.88 968.23,95.77 965.22,95.67 962.21,95.58 959.2,95.48 956.2,95.39 953.2,95.3 950.2,95.21 947.2,95.12 944.2,95.03 941.21,94.94 938.21,94.85 935.22,94.75 932.23,94.65 929.24,94.55 926.25,94.45 923.26,94.34 920.26,94.23 917.26,94.12 914.27,94.01 911.27,93.9 908.27,93.79 905.27,93.69 902.26,93.58 899.26,93.48 896.26,93.37 893.25,93.27 890.24,93.18 887.23,93.08 884.23,92.99 881.21,92.91 878.2,92.83 875.19,92.75 872.18,92.68 869.17,92.62 866.17,92.55" fill="#a6a6a6" stroke="none"/>
<circle cx="866" cy="100.5" r="7.95" fill="#a6a6a6" stroke="none"/>
<circle cx="1648.8" cy="498" r="7.95" fill="#a6a6a6" stroke="none"/>
<circle cx="234.2" cy="97.9" r="6.32"/>
<circle cx="338" cy="97.9" r="6.32"/>
<circle cx="432.85" cy="98.26" r="6.32"/>
<circle cx="476.95" cy="98.43" r="6.32"/>
<circle cx="506" cy="98.55" r="6.32"/>
<circle cx="517.53" cy="98.59" r="6.32"/>
<circle cx="536.79" cy="98.66" r="6.32"/>
<circle cx="565.84" cy="98.78" r="6.32"/>
<circle cx="577.37" cy="98.82" r="6.32"/>
<circle cx="596.63" cy="98.89" r="6.32"/>
<circle cx="608.7" cy="98.94" r="6.32"/>
<circle cx="615.9" cy="98.97" r="6.32"/>
<circle cx="631.64" cy="99.03" r="6.32"/>
<circle cx="656.47" cy="99.12" r="6.32"/>
<circle cx="675.74" cy="99.2" r="6.32"/>
<circle cx="687.95" cy="99.25" r="6.32"/>
<circle cx="691.48" cy="99.26" r="6.32"/>
<circle cx="704.79" cy="99.31" r="6.32"/>
<circle cx="735.58" cy="99.43" r="6.32"/>
<circle cx="751.32" cy="99.49" r="6.32"/>
<circle cx="756.89" cy="99.51" r="6.32"/>
<circle cx="763.39" cy="99.54" r="6.32"/>
<circle cx="770.01" cy="99.56" r="6.32"/>
<circle cx="776.16" cy="99.59" r="6.32"/>
<circle cx="794.55" cy="99.66" r="6.32"/>
<circle cx="795.85" cy="99.66" r="6.32"/>
<circle cx="816.06" cy="99.74" r="6.32"/>
<circle cx="828.09" cy="99.78" r="6.32"/>
<circle cx="831.29" cy="99.8" r="6.32"/>
<circle cx="846.17" cy="99.85" r="6.32"/>
<circle cx="856.97" cy="99.9" r="6.32"/>
<circle cx="859.48" cy="99.91" r="6.32"/>
<circle cx="1650.01" cy="526.13" r="6.32"/>
<circle cx="1652.28" cy="525.15" r="6.32"/>
<circle cx="1652.47" cy="528.04" r="6.32"/>
<circle cx="1654.93" cy="526.71" r="6.32"/>
<circle cx="1655.42" cy="529.35" r="6.32"/>
<circle cx="1658.13" cy="528.06" r="6.32"/>
<circle cx="1658.57" cy="530.79" r="6.32"/>
<circle cx="1661.13" cy="530.14" r="6.32"/>
<circle cx="1661.67" cy="533.44" r="6.32"/>
<circle cx="1664.58" cy="532.45" r="6.32"/>
<circle cx="1664.82" cy="535.28" r="6.32"/>
<circle cx="1667.23" cy="534.06" r="6.32"/>
<circle cx="1667.47" cy="536.96" r="6.32"/>
<circle cx="1669.69" cy="535.97" r="6.32"/>
<circle cx="1670.8" cy="536.9" r="6.32"/>
<circle cx="1652.4" cy="526" r="6.32"/>
<circle cx="1658.2" cy="529.2" r="6.32"/>
<circle cx="1663.2" cy="532.6" r="6.32"/>
<circle cx="1667.3" cy="535.3" r="6.32"/>
<circle cx="1675.5" cy="546.8" r="6.32"/>
<circle cx="1680" cy="560" r="6.32"/>
<circle cx="1682.5" cy="568" r="6.32"/>
<circle cx="1683.4" cy="571.2" r="6.32"/>
<circle cx="1695.3" cy="574.5" r="6.32"/>
<circle cx="1697.9" cy="601" r="6.32"/>
<circle cx="1700" cy="612.2" r="6.32"/>
<circle cx="1704.5" cy="614.9" r="6.32"/>
<circle cx="1707.2" cy="620.2" r="6.32"/>
<circle cx="1710.5" cy="642" r="6.32"/>
<circle cx="1710.8" cy="644.2" r="6.32"/>
<circle cx="1711.2" cy="646.6" r="6.32"/>
<circle cx="1712.6" cy="649.2" r="6.32"/>
<circle cx="1714.5" cy="651.9" r="6.32"/>
<circle cx="1716.8" cy="654" r="6.32"/>
<circle cx="1719.1" cy="655.9" r="6.32"/>
<circle cx="1719.75" cy="684.5" r="6.32"/>
<circle cx="1723.1" cy="691.1" r="6.32"/>
<circle cx="1736.9" cy="696.4" r="6.32"/>
<circle cx="1736.9" cy="732.7" r="6.32"/>
<circle cx="1742" cy="763.5" r="6.32"/>
<circle cx="1748.8" cy="785" r="6.32"/>
<circle cx="1756.8" cy="793.6" r="6.32"/>
<circle cx="1758.8" cy="800.2" r="6.32"/>
<circle cx="1764.3" cy="843.8" r="6.32"/>
<circle cx="1799.1" cy="855" r="6.32"/>
<circle cx="1919.6" cy="872.7" r="6.32"/>
<ellipse cx="874.7" cy="100.86" rx="0.8" ry="3.6" fill="#fff" stroke="none"/>
<ellipse cx="893.3" cy="101.42" rx="0.9" ry="3.6" fill="#fff" stroke="none"/>
<ellipse cx="905.8" cy="101.79" rx="0.35" ry="3.6" fill="#fff" stroke="none"/>
<ellipse cx="923.7" cy="102.33" rx="0.6" ry="3.6" fill="#fff" stroke="none"/>
<ellipse cx="933.6" cy="102.63" rx="0.9" ry="3.6" fill="#fff" stroke="none"/>
<ellipse cx="942.3" cy="102.89" rx="0.45" ry="3.6" fill="#fff" stroke="none"/>
<ellipse cx="945.6" cy="102.99" rx="0.6" ry="3.6" fill="#fff" stroke="none"/>
<ellipse cx="953.4" cy="103.22" rx="0.7" ry="3.6" fill="#fff" stroke="none"/>
<ellipse cx="960.7" cy="103.44" rx="0.5" ry="3.6" fill="#fff" stroke="none"/>
</g>
<g id="erldb" stroke="#8c8a2f" fill="#8c8a2f" stroke-width="12.64" stroke-linecap="round" stroke-linejoin="round">
<path d="M1919.1 855.4v0.01M1928.4 872.2v5.8M1963.5 877.5v11M1987.9 888.2v9.4M2007.4 897.3v11.1M2023.1 908.3v13.3M2036.3 921.5v6.9M2048 928.2v13.9M2058.4 942.2v3.2M2067.3 946.2v16.3M2075.9 963.2v1.7M2083 965.2v9.1M2096.4 974.6v10.1M2107.6 984.5v9.2M2118 994v8.6M2127.3 1003.4v11.1M2135.9 1015.8v1.2M2142.3 1018v6.9M2150.8 1026.7v2.7M2157.2 1031.2v3.1M2163.7 1035.6v2.7M2170.1 1040.6v1.2M2175.1 1042.1v3.7M2179.5 1045.1v4.6M2181.6 1051.2v2.65M2186.2 1056.5v2.65M2191.5 1061.8v3M2198.1 1067.8v3.95M2204.7 1075.7v8.08M2216.2 1086.6v3.45M2221.5 1093.5v4.3M2226.8 1102.1v4M2231.8 1110.1v4.65M2240.4 1119.4v3.6M2243.6 1119v7M2248.5 1126.6v5.4M2250.5 1133v4M2251.6 1137v3.5M2256.5 1142.5v4.9M2266 1150.8v3.6M2269 1155.7v0.5M2272.3 1159v0.5M2275 1162.3v0.5M2278.5 1164.7v3.9M2286.9 1172.3v0.6M2292.8 1176.8v0.6M2299.4 1182.8v5.2M2300.4 1188v4.8M2303.5 1195.7v0.6M2307 1199v3M2308.4 1202v3M2315 1212v0.6M2319 1220.9v0.6M2322.2 1228.4v0.4" fill="none"/>
<polyline points="2179.5,1049.7 2181.6,1051.2 2186.2,1056.5 2191.5,1061.8 2198.1,1067.8 2204.7,1075.7 2206.5,1082 2216.2,1088 2221.5,1094.5 2226.8,1102.1 2231.8,1110.1 2240.4,1119.4 2243.7,1126.6 2249,1133.2 2251.5,1139" fill="none"/>
<circle cx="2334.1" cy="1238.2" r="6.32" stroke="none"/>
<circle cx="2348.5" cy="1249.4" r="6.32" stroke="none"/>
<circle cx="2376.5" cy="1263" r="6.32" stroke="none"/>
<circle cx="2391.9" cy="1279.5" r="6.32" stroke="none"/>
<circle cx="2393.8" cy="1300.5" r="6.32" stroke="none"/>
<circle cx="2393.8" cy="1330.6" r="6.32" stroke="none"/>
<circle cx="2424.9" cy="1381.5" r="6.32" stroke="none"/>
<circle cx="2428.8" cy="1446" r="6.32" stroke="none"/>
</g>
<line x1="1427.37" y1="1446" x2="1427.37" y2="26.5" stroke="#000" stroke-width="4.74" stroke-dasharray="33.18 14.25"/>
<line x1="1690.48" y1="1446" x2="1690.48" y2="26.5" stroke="#8a8a8a" stroke-width="4.74" stroke-dasharray="18.96 18.97"/>
<line x1="1427.37" y1="91.3" x2="2121.11" y2="91.3" stroke="#000000" stroke-width="2.85"/>
<polygon points="2125.61,91.3 2101.61,77.4 2101.61,105.2" fill="#000000" stroke="#000000" stroke-width="2.85" stroke-linejoin="round"/>
<line x1="1690.48" y1="260.3" x2="2121.11" y2="260.3" stroke="#595959" stroke-width="2.85"/>
<polygon points="2125.61,260.3 2101.61,246.4 2101.61,274.2" fill="#595959" stroke="#595959" stroke-width="2.85" stroke-linejoin="round"/>
</g>
<g font-family="'Liberation Sans', Arial, Helvetica, sans-serif" font-size="37.94">
<text transform="translate(1443.47 82.8) scale(1 1.02)" fill="#000">Pareto estimation (alpha = 1.399)</text>
<text transform="translate(1443.77 126.4) scale(1 1.02)" fill="#000">GPareto estimation (alpha = 1.62)</text>
<text transform="translate(1705.98 253.7) scale(1 1.02)" fill="#595959">Data replacement</text>
<text transform="translate(1406.37 1424.5) rotate(-90) scale(1 1.03)" fill="#000">w<tspan font-size="26.56" dy="7">min</tspan><tspan dy="-7">: 302,000</tspan></text>
<text transform="translate(1668.98 1424.5) rotate(-90) scale(1 1.03)" fill="#595959">w<tspan font-size="26.56" dy="7">0</tspan><tspan dy="-7">: 6,361,300</tspan></text>
</g>
<g stroke="#000" fill="none">
<line x1="233.7" y1="26.5" x2="233.7" y2="1447.1" stroke-width="2.2"/>
<line x1="232.6" y1="1446" x2="2533.3" y2="1446" stroke-width="2.2"/>
<line x1="220" y1="91.3" x2="233.7" y2="91.3" stroke-width="4.8"/>
<line x1="220" y1="430.5" x2="233.7" y2="430.5" stroke-width="4.8"/>
<line x1="220" y1="769.7" x2="233.7" y2="769.7" stroke-width="4.8"/>
<line x1="220" y1="1108.9" x2="233.7" y2="1108.9" stroke-width="4.8"/>
<line x1="934.37" y1="1446" x2="934.37" y2="1459.2" stroke-width="4.8"/>
<line x1="1133.16" y1="1446" x2="1133.16" y2="1459.2" stroke-width="4.8"/>
<line x1="1331.95" y1="1446" x2="1331.95" y2="1459.2" stroke-width="4.8"/>
<line x1="1530.74" y1="1446" x2="1530.74" y2="1459.2" stroke-width="4.8"/>
<line x1="1729.53" y1="1446" x2="1729.53" y2="1459.2" stroke-width="4.8"/>
<line x1="1928.32" y1="1446" x2="1928.32" y2="1459.2" stroke-width="4.8"/>
<line x1="2127.11" y1="1446" x2="2127.11" y2="1459.2" stroke-width="4.8"/>
<line x1="2325.9" y1="1446" x2="2325.9" y2="1459.2" stroke-width="4.8"/>
</g>
<g font-family="'Liberation Sans', Arial, Helvetica, sans-serif" font-size="42.67" fill="#3d3d3d">
<text transform="translate(210.3 106.7) scale(1 1.03)" text-anchor="end">1e+00</text>
<text transform="translate(210.3 445.9) scale(1 1.03)" text-anchor="end">1e-02</text>
<text transform="translate(210.3 785.1) scale(1 1.03)" text-anchor="end">1e-04</text>
<text transform="translate(210.3 1124.3) scale(1 1.03)" text-anchor="end">1e-06</text>
<text transform="translate(934.37 1501) scale(1 1.03)" text-anchor="middle">1K</text>
<text transform="translate(1133.16 1501) scale(1 1.03)" text-anchor="middle">10K</text>
<text transform="translate(1331.95 1501) scale(1 1.03)" text-anchor="middle">100K</text>
<text transform="translate(1530.74 1501) scale(1 1.03)" text-anchor="middle">1M</text>
<text transform="translate(1729.53 1501) scale(1 1.03)" text-anchor="middle">10M</text>
<text transform="translate(1928.32 1501) scale(1 1.03)" text-anchor="middle">100M</text>
<text transform="translate(2127.11 1501) scale(1 1.03)" text-anchor="middle">1B</text>
<text transform="translate(2325.9 1501) scale(1 1.03)" text-anchor="middle">10B</text>
</g>
<g font-family="'Liberation Sans', Arial, Helvetica, sans-serif" font-size="53.33" fill="#000" text-anchor="middle">
<text transform="translate(1383.5 1562) scale(1 1.03)">Net Wealth</text>
<text transform="translate(63.9 736.25) rotate(-90) scale(1 1.03)">P (X &gt; x)</text>
</g>
<g fill="none" stroke-width="3.15" stroke-linecap="round" stroke-linejoin="round">
<circle cx="510.25" cy="937.1" r="15.8" stroke="#a6a6a6"/>
<circle cx="510.25" cy="1013.8" r="15.8" fill="#8c8a2f" stroke="none"/>
<path d="M487.91 1090.5h44.69M510.25 1068.16v44.69" stroke="#82304f"/>
<path d="M487.91 1167.4l22.34 -22.34l22.34 22.34l-22.34 22.34z" stroke="#2b857a"/>
</g>
<g font-family="'Liberation Sans', Arial, Helvetica, sans-serif" font-size="40" fill="#000">
<text transform="translate(570.2 951.5) scale(1 1.03)">HFCS</text>
<text transform="translate(570.2 1028.2) scale(1 1.03)">ERLDB</text>
<text transform="translate(570.2 1104.9) scale(1 1.03)">Pareto</text>
<text transform="translate(570.2 1181.8) scale(1 1.03)">Generalized Pareto</text>
</g>
</svg>
</body></html>
